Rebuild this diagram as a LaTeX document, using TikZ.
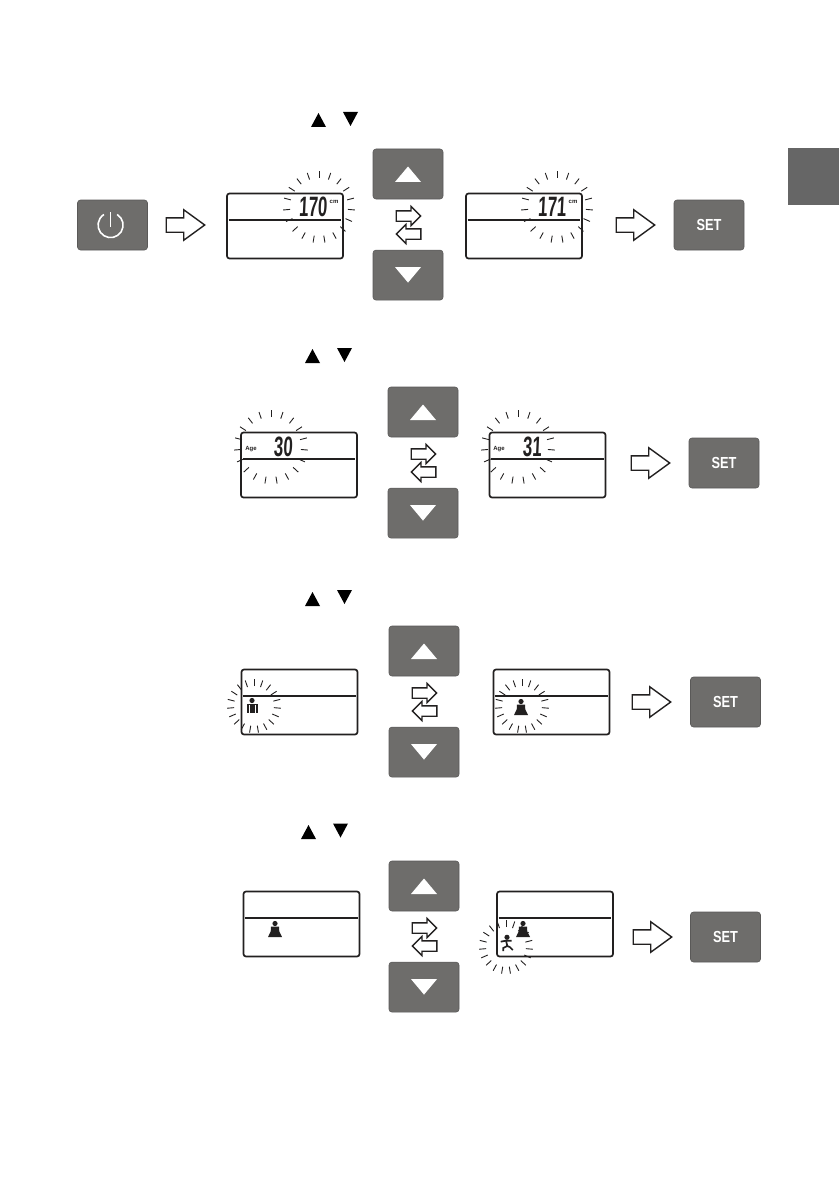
\documentclass[tikz,border=0pt]{standalone}
\usepackage{fontspec}
\setmainfont{Liberation Sans}
\newfontfamily\lcdfont[FakeSlant=0.08]{Liberation Sans}
\usetikzlibrary{shapes.arrows,positioning,calc}

\definecolor{keygrey}{HTML}{6E6D6B}
\definecolor{keyedge}{HTML}{5A5958}
\definecolor{tabgrey}{HTML}{666666}
\definecolor{lcdink}{HTML}{222020}

\tikzset{
  keybox/.style={rectangle, rounded corners=3pt, fill=keygrey, draw=keyedge, line width=0.6pt,
    minimum width=70pt, minimum height=50pt, inner sep=0pt, text=white,
    font=\fontsize{16}{16}\selectfont\bfseries},
  lcdbox/.style={rectangle, rounded corners=2.5pt, draw=lcdink, line width=1.7pt,
    minimum width=116pt, minimum height=65pt, inner sep=0pt},
  lcdline/.style={draw=lcdink, line width=1.4pt},
  lcdnum/.style={inner sep=0pt, text=lcdink, font=\fontsize{28}{28}\selectfont\lcdfont\bfseries},
  lcdsmall/.style={inner sep=0pt, text=lcdink, font=\fontsize{6}{6}\selectfont\bfseries},
  burstray/.style={draw=lcdink, line width=0.9pt},
  bigarrow/.style={single arrow, draw=lcdink, fill=white, line width=1.4pt, anchor=tail,
    inner xsep=0pt, inner ysep=6.5pt, minimum height=38.5pt, single arrow head extend=8pt,
    single arrow tip angle=72},
  swaparrow/.style={single arrow, draw=lcdink, fill=white, line width=1.3pt, anchor=tail,
    inner xsep=0pt, inner ysep=4.5pt, minimum height=24.5pt, single arrow head extend=4.5pt,
    single arrow tip angle=90},
}

% flashing rays round a point: x, y, inner radius, outer radius
\newcommand{\burstrays}[4]{
  \foreach \k in {0,...,18}
    \draw [burstray] (#1,#2) ++({-90+\k*18.947}:#3) -- ++({-90+\k*18.947}:#4-#3);
}
% the display with its divider: name, x, y
\newcommand{\lcdpanel}[3]{
  \node [lcdbox] (#1) at (#2,#3) {};
  \draw [lcdline] ($(#1.west)+(2.5,-6)$) -- ($(#1.east)+(-2.5,-6)$);
}
% up and down keys with the swap arrows between them: name, x, y of the upper key
\newcommand{\keypair}[3]{
  \node [keybox] (#1up) at (#2,#3) {};
  \node [keybox, below=50.5pt of #1up] (#1down) {};
  \fill [white] (#1up.center) ++(-13,8) -- ++(26,0) -- ++(-13,-15.5) -- cycle;
  \fill [white] (#1down.center) ++(-13,-8) -- ++(26,0) -- ++(-13,15.5) -- cycle;
  \node [swaparrow] (#1right) at (#2-12.5,#3+42) {};
  \node [swaparrow, rotate=180] (#1left) at (#2+13.5,#3+60) {};
}
% small black triangles of the instruction line: x, y of the up one, x, y of the down one
\newcommand{\headmarks}[4]{
  \fill [black] (#1,#2) ++(-7.5,7) -- ++(15,0) -- ++(-7.5,-14) -- cycle;
  \fill [black] (#3,#4) ++(-7.5,-7) -- ++(15,0) -- ++(-7.5,14) -- cycle;
}
% figures for the activity levels
\newcommand{\manicon}[2]{
  \fill [lcdink] (#1,#2) ++(0,-5.5) circle (2.6);
  \fill [lcdink] (#1,#2) ++(-5.5,-2.5) rectangle ++(11,9.5);
  \draw [white, line width=0.4pt] (#1,#2) ++(-3.2,-1) -- ++(0,8) (#1,#2) ++(3.2,-1) -- ++(0,8);
}
\newcommand{\seaticon}[2]{
  \fill [lcdink] (#1,#2) ++(0,-6.5) circle (2.6);
  \fill [lcdink] (#1,#2) ++(-4,-3.5) -- ++(8,0) -- ++(0.3,5) -- ++(2.7,5.5) -- ++(-14,0) -- ++(2.7,-5.5) -- cycle;
}
\newcommand{\runicon}[2]{
  \fill [lcdink] (#1,#2) ++(0,-6.7) circle (2.6);
  \draw [lcdink, line width=1.7pt] (#1,#2) ++(-6.3,-2.3) -- ++(5,-1) -- ++(6,0)
    (#1,#2) ++(-1,-3.3) -- ++(1.3,5.3) -- ++(-4,2) -- ++(0,3) (#1,#2) ++(0.3,2) -- ++(2.5,1) -- ++(3,3);
}

\begin{document}
\begin{tikzpicture}[x=1pt, y=-1pt]
    \useasboundingbox (0, 0) rectangle (839, 1193);

    % Side tab
    \fill [tabgrey] (788, 148) rectangle (839, 205);

    % Height row
    \headmarks{318.5}{120}{350.5}{119}
    \node [keybox] (power) at (112.5, 225) {};
    \draw [white, line width=1.6pt] (power.center) ++(4.7,-10.5) arc (-58:238:12.5);
    \draw [white, line width=1.6pt] (power.center) ++(-2,-13) -- ++(0,15);
    \node [bigarrow] (arrowA) at (165.5, 225) {};
    \lcdpanel{lcdA}{285}{226}
    \burstrays{319}{207}{29}{36}
    \node [lcdnum] (numA) at (313, 207) {\scalebox{.6}[1]{170}};
    \node [lcdsmall] (unitA) at (334, 202) {cm};
    \keypair{keyA}{408}{174}
    \lcdpanel{lcdB}{524}{226}
    \burstrays{557}{207}{29}{36}
    \node [lcdnum] (numB) at (552, 207) {\scalebox{.6}[1]{171}};
    \node [lcdsmall] (unitB) at (573, 202) {cm};
    \node [bigarrow] (arrowB) at (615.5, 225) {};
    \node [keybox] (setA) at (709, 225) {\scalebox{.8}[1]{SET}};

    % Age row
    \headmarks{312.5}{356}{344.5}{355}
    \lcdpanel{lcdC}{299}{465}
    \burstrays{271}{447}{30}{37}
    \node [lcdsmall] (ageC) at (251, 449) {Age};
    \node [lcdnum] (numC) at (283, 447) {\scalebox{.6}[1]{30}};
    \keypair{keyB}{423}{412}
    \lcdpanel{lcdD}{547.5}{465}
    \burstrays{518}{447}{30}{37}
    \node [lcdsmall] (ageD) at (499, 449) {Age};
    \node [lcdnum] (numD) at (532, 447) {\scalebox{.6}[1]{31}};
    \node [bigarrow] (arrowC) at (630.5, 463) {};
    \node [keybox] (setB) at (724, 463) {\scalebox{.8}[1]{SET}};

    % Gender row
    \headmarks{312.5}{599}{344.5}{597}
    \lcdpanel{lcdE}{299.5}{702}
    \burstrays{254}{706}{20}{27}
    \manicon{252}{706}
    \keypair{keyC}{424}{651}
    \lcdpanel{lcdF}{551.5}{702}
    \burstrays{522}{706}{20}{27}
    \seaticon{521}{708}
    \node [bigarrow] (arrowD) at (631.5, 702) {};
    \node [keybox] (setC) at (725.5, 702) {\scalebox{.8}[1]{SET}};

    % Activity row
    \headmarks{308.5}{832}{340.5}{830.5}
    \lcdpanel{lcdG}{301.5}{924}
    \seaticon{275}{930}
    \keypair{keyD}{424}{886}
    \lcdpanel{lcdH}{555}{924}
    \seaticon{523}{930}
    \runicon{507}{944}
    \burstrays{506}{947}{20}{27}
    \node [bigarrow] (arrowE) at (632.5, 937) {};
    \node [keybox] (setD) at (725.5, 937) {\scalebox{.8}[1]{SET}};
\end{tikzpicture}
\end{document}
